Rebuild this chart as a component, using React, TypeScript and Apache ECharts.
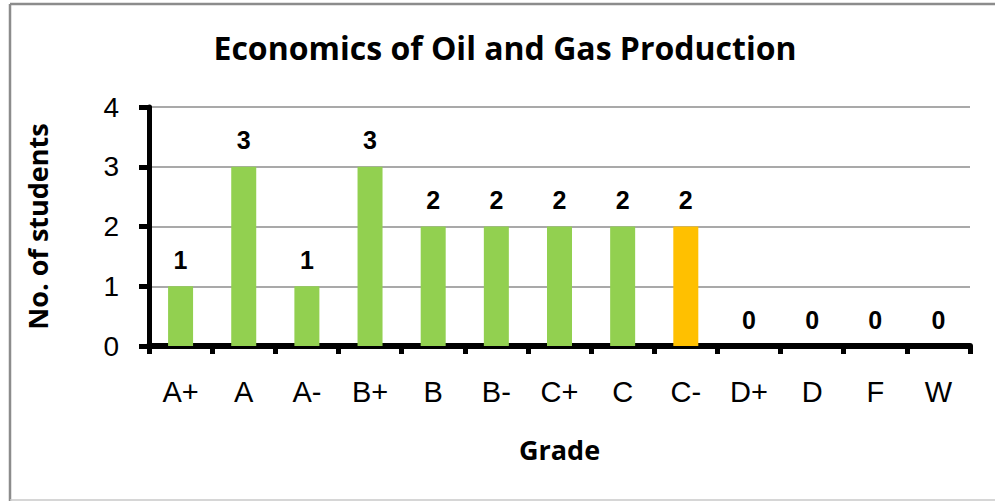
import React, { useEffect, useRef } from "react";
import * as echarts from "echarts";

const categories = ["A+", "A", "A-", "B+", "B", "B-", "C+", "C", "C-", "D+", "D", "F", "W"];
const counts = [1, 3, 1, 3, 2, 2, 2, 2, 2, 0, 0, 0, 0];
const highlighted = ["C-"];
const yTicks = [0, 1, 2, 3, 4];

const GREEN = "#92D050";
const ORANGE = "#FFC000";

export default function App() {
  const ref = useRef<HTMLDivElement>(null);
  useEffect(() => {
    if (!ref.current) return;
    const chart = echarts.init(ref.current, null, { renderer: "svg" });
    chart.setOption({
      animation: false,
      backgroundColor: "#ffffff",
      title: {
        text: "Economics of Oil and Gas Production",
        left: 500,
        top: 26,
        textAlign: "center",
        textStyle: { fontFamily: "Open Sans", fontWeight: "bold", fontSize: 32, color: "#000" },
      },
      graphic: [
        {
          type: "line",
          shape: { x1: 10, y1: 4, x2: 995, y2: 4 },
          style: { stroke: "#8c8c8c", lineWidth: 2.5 },
          silent: true,
        },
        {
          type: "line",
          shape: { x1: 10, y1: 4, x2: 10, y2: 501 },
          style: { stroke: "#8c8c8c", lineWidth: 2.5 },
          silent: true,
        },
        {
          type: "line",
          shape: { x1: 10, y1: 500, x2: 995, y2: 500 },
          style: { stroke: "#c8c8c8", lineWidth: 1.5 },
          silent: true,
        },
      ],
      grid: { left: 149, right: 25, top: 107, bottom: 155 },
      xAxis: {
        type: "category",
        data: categories,
        boundaryGap: true,
        name: "Grade",
        nameLocation: "middle",
        nameGap: 90,
        nameTextStyle: { fontFamily: "Open Sans", fontWeight: "bold", fontSize: 27, color: "#000" },
        axisLine: { show: true, lineStyle: { color: "#000", width: 6 } },
        axisTick: { show: true, alignWithLabel: false, length: 8, lineStyle: { color: "#000", width: 5 } },
        axisLabel: { margin: 31, fontFamily: "Liberation Sans", fontSize: 29, color: "#000", interval: 0 },
      },
      yAxis: {
        type: "value",
        min: yTicks[0],
        max: yTicks[yTicks.length - 1],
        interval: 1,
        name: "No. of students",
        nameLocation: "middle",
        nameRotate: 90,
        nameGap: 98,
        nameTextStyle: { fontFamily: "Open Sans", fontWeight: "bold", fontSize: 27, color: "#000" },
        axisLine: { show: true, lineStyle: { color: "#000", width: 5 } },
        axisTick: { show: true, length: 10, lineStyle: { color: "#000", width: 5 } },
        axisLabel: { margin: 30, fontFamily: "Liberation Sans", fontSize: 28, color: "#000" },
        splitLine: { show: true, lineStyle: { color: "#8c8c8c", width: 1.5 } },
      },
      series: [
        {
          type: "bar",
          barWidth: 25,
          data: counts.map((v, i) => ({
            value: v,
            itemStyle: { color: highlighted.includes(categories[i]) ? ORANGE : GREEN },
          })),
          label: {
            show: true,
            position: "top",
            distance: 14,
            fontFamily: "Liberation Sans",
            fontWeight: "bold",
            fontSize: 25,
            color: "#000",
          },
        },
      ],
    });
    return () => chart.dispose();
  }, []);
  return <div ref={ref} style={{ width: 995, height: 501, position: "absolute", left: 0, top: 0 }} />;
}
